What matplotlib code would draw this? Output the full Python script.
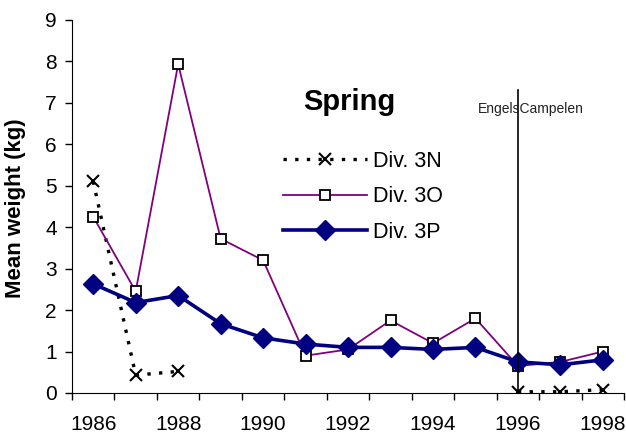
import numpy as np
import matplotlib
matplotlib.use("Agg")
import matplotlib.pyplot as plt

years = list(range(1986, 1999))
div_3n = [5.10, 0.43, 0.52, np.nan, np.nan, np.nan, np.nan, np.nan, np.nan, np.nan, 0.03, 0.03, 0.08]
div_3o = [4.25, 2.45, 7.93, 3.72, 3.20, 0.90, 1.05, 1.75, 1.20, 1.80, 0.65, 0.75, 1.00]
div_3p = [2.63, 2.18, 2.35, 1.67, 1.33, 1.18, 1.10, 1.10, 1.05, 1.10, 0.75, 0.68, 0.80]
tick_years = [1986, 1988, 1990, 1992, 1994, 1996, 1998]
vessel_change_year = 1996

plt.rcParams['font.family'] = ['Liberation Sans', 'DejaVu Sans']

fig = plt.figure(figsize=(6.26, 4.33), dpi=100)
ax = fig.add_axes([0.115, 0.0924, 0.882, 0.862])

x = np.arange(len(years))

ax.plot(x, div_3n, color='black', linestyle=(0, (1, 2.5)), linewidth=2.4, marker='x',
        markersize=9, markeredgewidth=1.5, label='Div. 3N')
ax.plot(x, div_3o, color='#800080', linewidth=1.3, marker='s', markersize=6.5,
        markerfacecolor='white', markeredgecolor='black', markeredgewidth=1.3,
        label='Div. 3O')
ax.plot(x, div_3p, color='#000080', linewidth=2.6, marker='D', markersize=10,
        label='Div. 3P')

# survey vessel change
vx = years.index(vessel_change_year)
ax.plot([vx, vx], [0, 7.3], color='black', linewidth=1.2)
ax.text(vx + 0.3, 6.85, 'EngelsCampelen', fontsize=10, ha='center', va='center',
        color='#222222')

ax.set_xlim(-0.5, len(years) - 0.5)
ax.set_ylim(0, 9)
ax.set_yticks(range(0, 10))
ax.tick_params(axis='y', labelsize=15, direction='out', length=5, width=1, pad=6)

# labels on even years, tick marks on category boundaries
ax.set_xticks([years.index(y) for y in tick_years], labels=[str(y) for y in tick_years])
ax.set_xticks(np.arange(-0.5, len(years)), minor=True)
ax.tick_params(axis='x', which='major', length=0, labelsize=15, pad=16)
ax.tick_params(axis='x', which='minor', direction='out', length=5, width=1)

for side in ['top', 'right']:
    ax.spines[side].set_visible(False)

ax.set_ylabel('Mean weight (kg)', fontsize=16, fontweight='bold')
ax.yaxis.set_label_coords(-0.083, 0.495)

ax.text(6.02, 7.02, 'Spring', fontsize=21, fontweight='bold', ha='center', va='center')

ax.legend(loc='upper left', bbox_to_anchor=(0.452, 0.652), bbox_transform=fig.transFigure,
          frameon=False, fontsize=15.5, handlelength=3.9, handletextpad=0.3,
          labelspacing=0.68, borderaxespad=0, borderpad=0)

fig.savefig('out.png', dpi=100)
